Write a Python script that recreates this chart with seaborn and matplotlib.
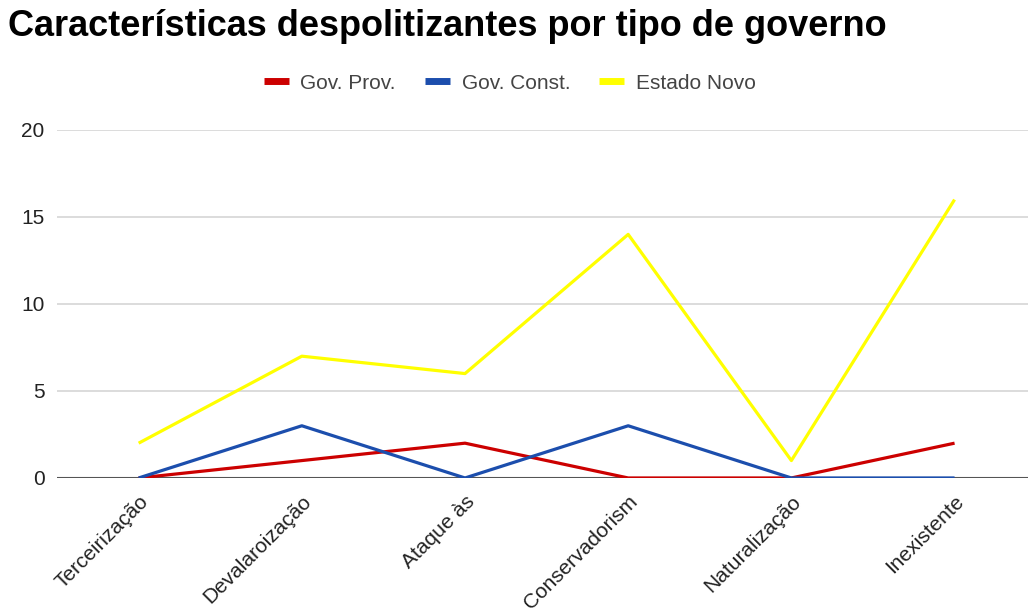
import matplotlib
matplotlib.use("Agg")
import matplotlib.pyplot as plt
from matplotlib.lines import Line2D
import pandas as pd
import seaborn as sns

categories = ["Terceirização", "Devalaroização", "Ataque às", "Conservadorism",
              "Naturalização", "Inexistente"]
series_names = ["Gov. Prov.", "Gov. Const.", "Estado Novo"]
gov_prov = [0, 1, 2, 0, 0, 2]
gov_const = [0, 3, 0, 3, 0, 0]
estado_novo = [2, 7, 6, 14, 1, 16]
y_ticks = [0, 5, 10, 15, 20]

colors = {"Gov. Prov.": "#cc0000", "Gov. Const.": "#1c4ead", "Estado Novo": "#ffff00"}

rows = []
for name, vals in zip(series_names, [gov_prov, gov_const, estado_novo]):
    for cat, v in zip(categories, vals):
        rows.append({"categoria": cat, "valor": v, "serie": name})
df = pd.DataFrame(rows)

sns.set_theme(style="white")
plt.rcParams["font.family"] = ["Liberation Sans", "DejaVu Sans"]

fig = plt.figure(figsize=(10.28, 6.12), dpi=100)
ax = fig.add_axes([0.0555, 0.219, 0.9445, 0.5686])

sns.lineplot(data=df, x="categoria", y="valor", hue="serie", hue_order=series_names,
             palette=colors, linewidth=2.3, sort=False, ax=ax, legend=False)

ax.set_ylim(0, 20)
ax.set_xlim(-0.5, 5.45)
ax.set_yticks(y_ticks)
ax.set_yticklabels([str(t) for t in y_ticks], fontsize=15, color="#222222")
ax.set_xticks(range(len(categories)))
ax.set_xticklabels(categories, rotation=45, ha="right", rotation_mode="anchor",
                   fontsize=15, color="#222222")
ax.tick_params(axis="both", length=0)
ax.tick_params(axis="y", pad=9)
ax.tick_params(axis="x", pad=10)
ax.set_xlabel("")
ax.set_ylabel("")
for t in y_ticks[1:]:
    ax.axhline(t, color="#d6d6d6", linewidth=1.2, zorder=0)
ax.axhline(0, color="#555555", linewidth=1.5, zorder=1)
for s in ax.spines.values():
    s.set_visible(False)

for ln in ax.get_lines():
    ln.set_solid_capstyle("butt")

fig.text(0.008, 0.957, "Características despolitizantes por tipo de governo",
         fontsize=26, fontweight="bold", color="#000000", va="center", ha="left")

handles = [Line2D([0], [0], color=colors[n], linewidth=5, solid_capstyle="butt")
           for n in series_names]
fig.legend(handles, series_names, loc="center", bbox_to_anchor=(0.496, 0.864),
           ncol=3, frameon=False, fontsize=15, handlelength=1.2, columnspacing=1.4,
           handletextpad=0.55, labelcolor="#444444")

fig.savefig("out.png", dpi=100, facecolor="white")
